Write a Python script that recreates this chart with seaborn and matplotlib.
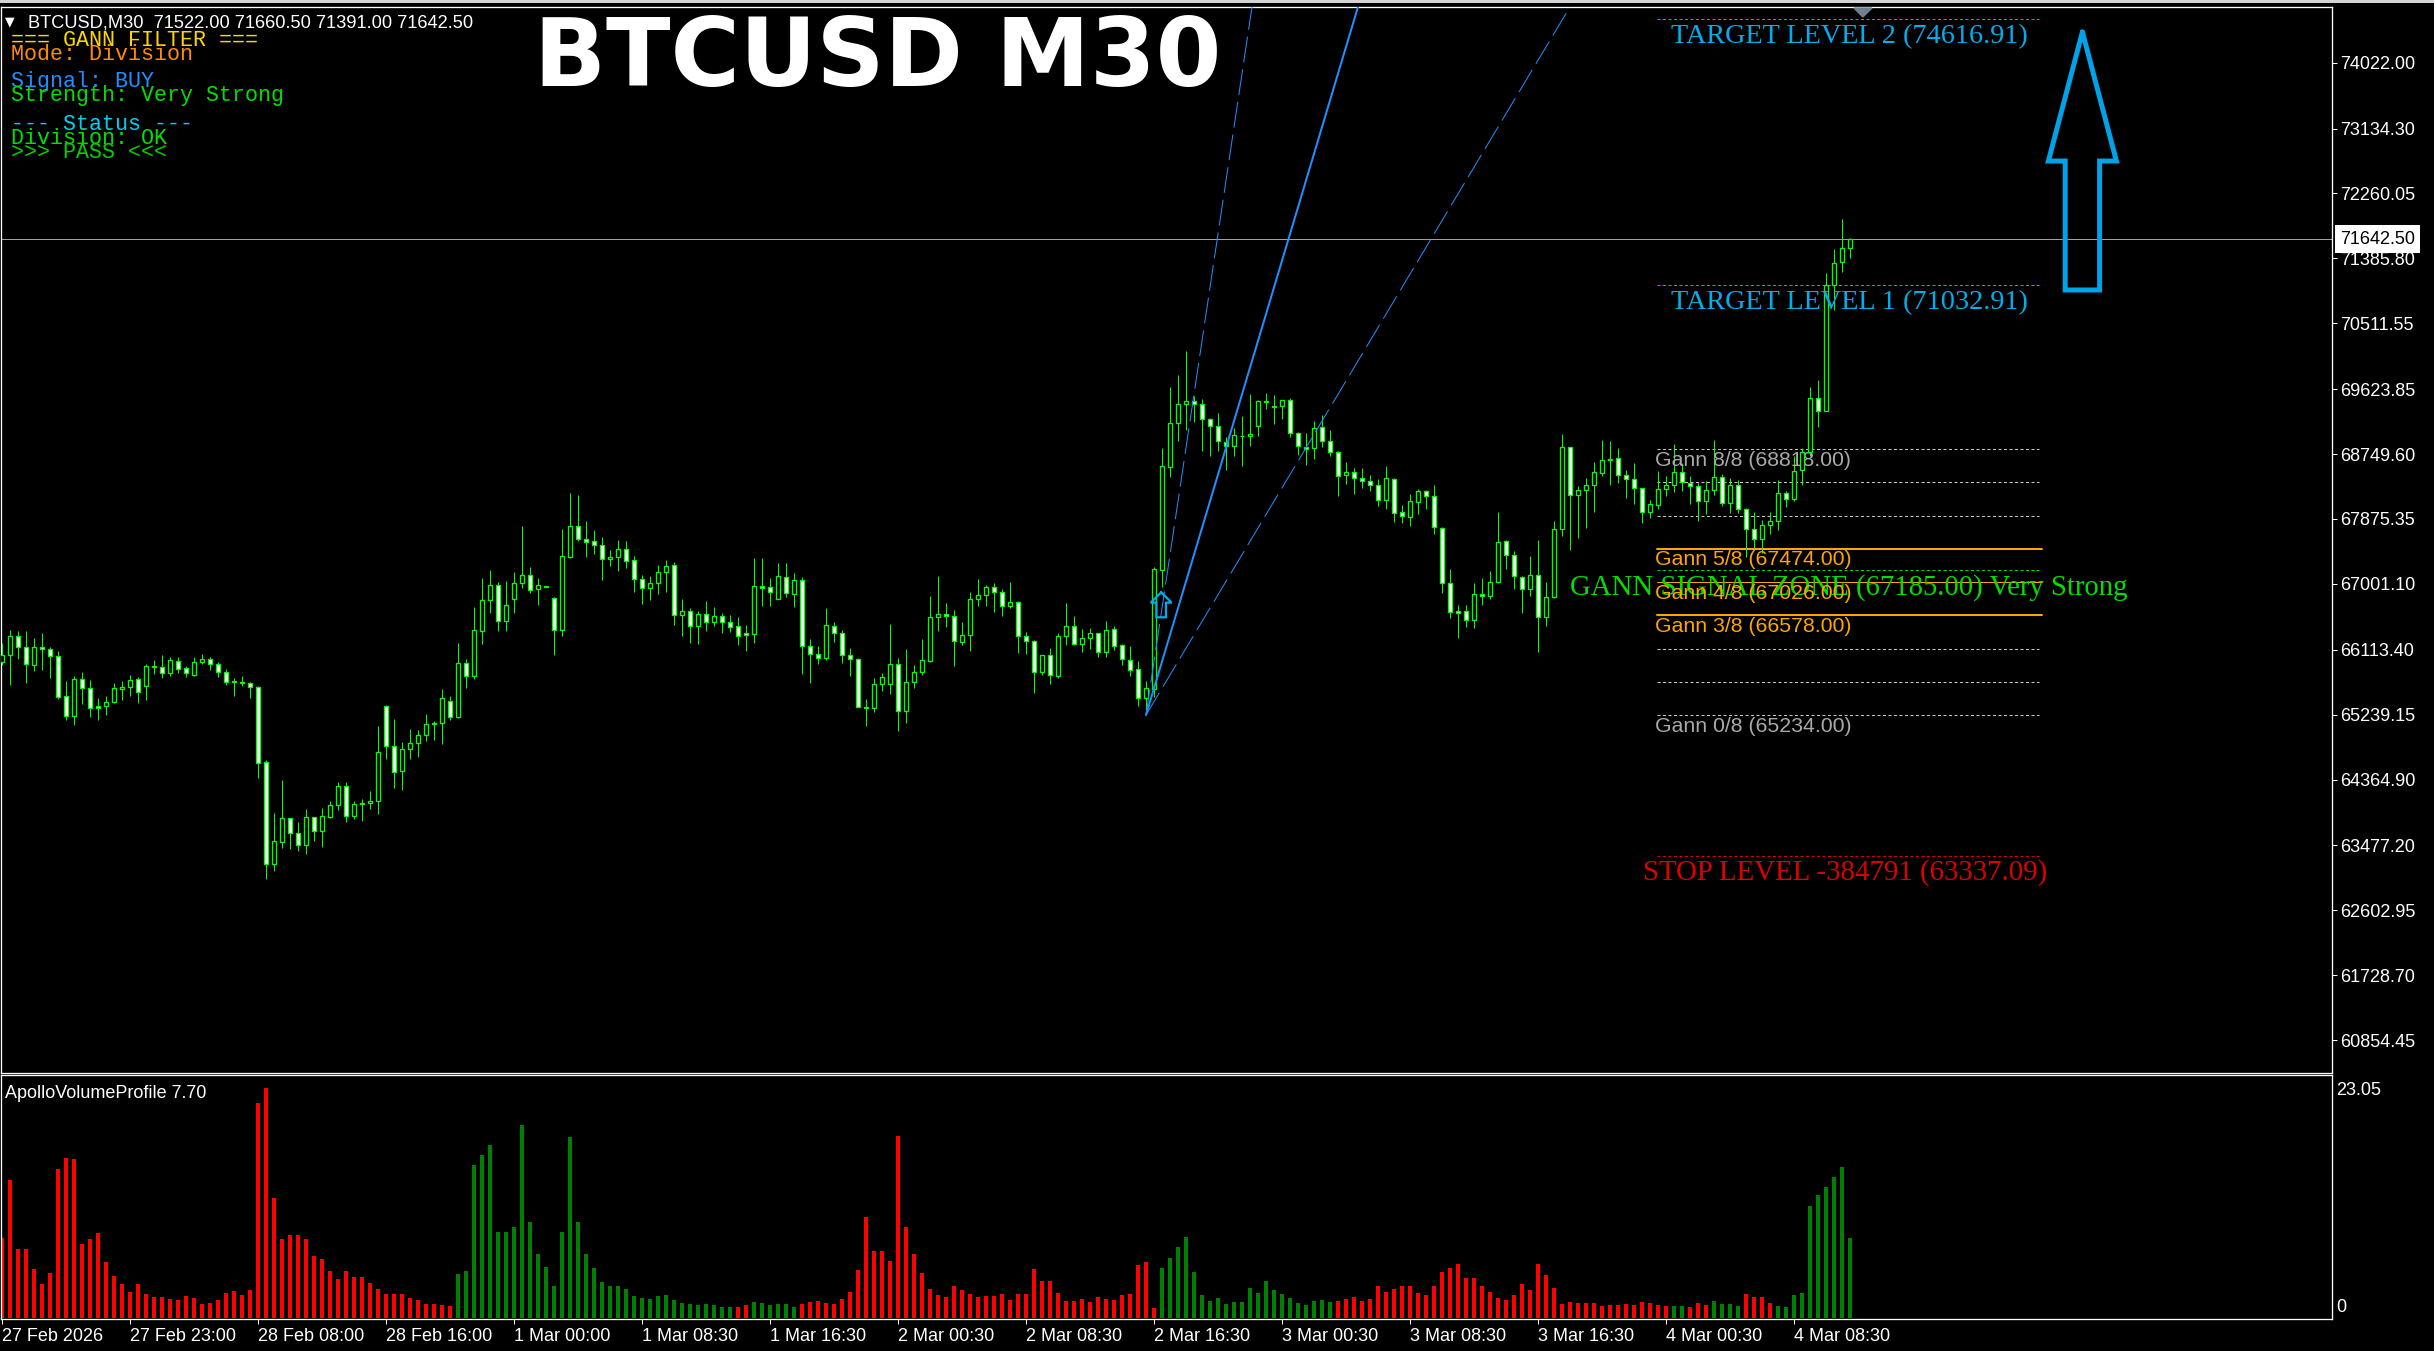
import pandas as pd
import seaborn as sns
import matplotlib.pyplot as plt
from matplotlib.patches import Rectangle

# Candles, one per 30 minutes
open_prices = [
    65953, 66039, 66295, 66146, 65904, 66146, 66119, 66025, 65486, 65217,
    65715, 65594, 65352, 65352, 65406, 65581, 65608, 65715, 65630, 65890,
    65877, 65796, 65958, 65864, 65778, 65944, 65985, 65917, 65810, 65688,
    65675, 65661, 65608, 64597, 63223, 63520, 63843, 63641, 63479, 63856,
    63668, 63856, 64018, 64274, 63870, 64045, 64045, 64072, 65352, 64813,
    64476, 64773, 64853, 64961, 65123, 65123, 65419, 65204, 65931, 65756,
    66371, 66779, 66981, 66496, 66793, 67008, 67116, 66927, 66968, 66806,
    66375, 67367, 67776, 67610, 67574, 67520, 67331, 67358, 67466, 67318,
    67062, 66941, 67008, 67156, 67251, 66577, 66631, 66429, 66591, 66483,
    66564, 66483, 66429, 66335, 66330, 66968, 66955, 66802, 67089, 66869,
    67049, 66160, 66052, 65998, 66429, 66335, 66039, 65985, 65343, 65325,
    65648, 65648, 65917, 65284, 65675, 65810, 65958, 66550, 66591, 66564,
    66214, 66308, 66793, 66847, 66955, 66887, 66699, 66753, 66295, 66227,
    65810, 66039, 65756, 66295, 66429, 66187, 66268, 66335, 66079, 66389,
    66173, 65971, 65850, 65459, 65585, 67192, 68580, 69164, 69419, 69460,
    69419, 69217, 69123, 68908, 68854, 68997, 68988, 69132, 69446, 69392,
    69392, 69473, 69029, 68840, 68827, 69110, 68921, 68773, 68463, 68503,
    68423, 68382, 68328, 68126, 68409, 67965, 67897, 68099, 68248, 68180,
    67749, 67008, 66636, 66631, 66510, 66860, 66833, 67022, 67574, 67385,
    67089, 66927, 67116, 66550, 66820, 67736, 68840, 68194, 68261, 68328,
    68490, 68665, 68692, 68463, 68409, 68288, 67965, 68060, 68275, 68329,
    68504, 68356, 68315, 68113, 68262, 68437, 68091, 68329, 68006, 67736,
    67602, 67790, 67844, 68221, 68140, 68535, 68782, 69500, 69334, 71023,
    71332, 71522,
]
high_prices = [
    66200, 66380, 66366, 66366, 66272, 66339, 66151, 66097, 65688, 65760,
    65810, 65706, 65464, 65491, 65666, 65693, 65774, 65742, 65917, 65976,
    66043, 66016, 66016, 65890, 66016, 66057, 66012, 65949, 65850, 65733,
    65760, 65675, 65621, 64629, 63910, 64355, 63843, 63789, 63964, 63856,
    63978, 64072, 64332, 64332, 64072, 64099, 64207, 65082, 65365, 65177,
    64867, 65042, 65028, 65244, 65150, 65581, 65486, 66205, 65985, 66685,
    67080, 67188, 67026, 67040, 67161, 67780, 67228, 67080, 66968, 66824,
    67735, 68225, 68198, 67848, 67727, 67632, 67457, 67592, 67578, 67376,
    67120, 67107, 67255, 67322, 67295, 66797, 66676, 66635, 66770, 66689,
    66604, 66582, 66555, 66443, 67345, 67350, 67076, 67278, 67278, 67143,
    67089, 66254, 66164, 66676, 66483, 66375, 66133, 65998, 65446, 65729,
    65801, 66456, 65998, 66119, 65908, 66254, 66833, 67103, 66744, 66645,
    66488, 66887, 67062, 66981, 67008, 66928, 67022, 66766, 66353, 66241,
    66039, 66133, 66335, 66744, 66568, 66389, 66402, 66335, 66497, 66429,
    66187, 66164, 65958, 65688, 67233, 68831, 69653, 69815, 70138, 69532,
    69491, 69231, 69298, 68984, 69096, 69258, 69554, 69473, 69568, 69541,
    69473, 69500, 69042, 69029, 69190, 69271, 69069, 68786, 68643, 68557,
    68557, 68463, 68414, 68589, 68423, 68063, 68212, 68274, 68261, 68328,
    67763, 67201, 66712, 66712, 67013, 67080, 67174, 67965, 67588, 67444,
    67103, 67376, 67588, 67026, 67843, 69015, 68840, 68319, 68423, 68638,
    68939, 68921, 68831, 68530, 68625, 68288, 68131, 68522, 68455, 68886,
    68625, 68450, 68356, 68383, 68940, 68477, 68423, 68396, 68019, 67965,
    67862, 67965, 68396, 68248, 68720, 68827, 69658, 69747, 71184, 71507,
    71916, 71660.5,
]
low_prices = [
    65908, 65639, 65989, 65666, 65828, 65841, 65733, 65455, 65168, 65100,
    65383, 65208, 65168, 65235, 65401, 65437, 65491, 65397, 65437, 65787,
    65733, 65760, 65801, 65747, 65760, 65922, 65841, 65747, 65639, 65491,
    65626, 65464, 64386, 63026, 63134, 63443, 63430, 63403, 63363, 63538,
    63457, 63848, 63955, 63794, 63834, 63807, 63969, 63901, 64642, 64252,
    64225, 64642, 64669, 64885, 64898, 64844, 65168, 65195, 65599, 65720,
    66191, 66608, 66366, 66366, 66608, 66945, 66878, 66716, 66963, 66043,
    66299, 67354, 67583, 67363, 67403, 67053, 67242, 67174, 67215, 66891,
    66730, 66784, 66864, 66891, 66447, 66299, 66204, 66191, 66366, 66433,
    66339, 66353, 66178, 66097, 66205, 66703, 66703, 66802, 66824, 66690,
    65787, 65666, 65922, 65976, 66218, 65935, 65760, 65338, 65087, 65275,
    65558, 65518, 65019, 65127, 65599, 65774, 65949, 66367, 66420, 65895,
    66178, 66097, 66703, 66703, 66622, 66568, 66676, 66070, 66057, 65531,
    65774, 65653, 65738, 66178, 66178, 66084, 66124, 66016, 66016, 66110,
    65908, 65760, 65356, 65275, 65477, 66963, 68445, 68926, 69074, 69181,
    68791, 68723, 68791, 68535, 68723, 68589, 68858, 68993, 69357, 69155,
    69217, 68984, 68737, 68602, 68679, 68845, 68723, 68185, 68346, 68212,
    68292, 68252, 68050, 68010, 67834, 67821, 67781, 67942, 68005, 67673,
    66878, 66537, 66267, 66420, 66402, 66716, 66797, 67017, 67197, 66932,
    66609, 66838, 66083, 66434, 66806, 67646, 67457, 67619, 67754, 67969,
    68454, 68333, 68360, 68158, 68077, 67821, 67889, 68015, 68181, 68239,
    68253, 68078, 67849, 67938, 68194, 68051, 67956, 67956, 67364, 67480,
    67413, 67669, 67727, 68033, 68118, 68333, 68724, 69119, 69325, 70690,
    71207, 71391,
]
close_prices = [
    66039, 66295, 66146, 65917, 66146, 66119, 66025, 65473, 65217, 65715,
    65594, 65325, 65325, 65406, 65594, 65608, 65702, 65540, 65890, 65877,
    65796, 65971, 65850, 65796, 65944, 65985, 65917, 65810, 65675, 65684,
    65661, 65608, 64584, 63223, 63533, 63843, 63641, 63479, 63856, 63668,
    63870, 64018, 64274, 63870, 64032, 64036, 64072, 64732, 64813, 64463,
    64773, 64853, 64961, 65109, 65109, 65459, 65204, 65931, 65756, 66375,
    66779, 66981, 66496, 66712, 67008, 67116, 66914, 66981, 66963, 66375,
    67372, 67776, 67610, 67569, 67520, 67331, 67358, 67466, 67304, 67062,
    66941, 67008, 67156, 67237, 66577, 66631, 66429, 66591, 66483, 66564,
    66492, 66425, 66304, 66317, 66968, 66950, 66887, 67103, 66874, 67049,
    66160, 66052, 65998, 66443, 66335, 66039, 65985, 65338, 65334, 65648,
    65742, 65917, 65284, 65675, 65810, 65971, 66550, 66591, 66564, 66227,
    66308, 66793, 66847, 66955, 66887, 66699, 66753, 66295, 66227, 65810,
    66039, 65769, 66295, 66429, 66187, 66268, 66335, 66079, 66375, 66160,
    65985, 65837, 65459, 65594, 67201, 68584, 69164, 69419, 69460, 69419,
    69217, 69123, 68921, 68854, 69002, 68988, 69015, 69460, 69460, 69388,
    69473, 69029, 68854, 68813, 69096, 68921, 68773, 68450, 68503, 68423,
    68382, 68328, 68126, 68423, 67951, 67911, 68113, 68248, 68180, 67763,
    67008, 66618, 66613, 66510, 66860, 66833, 67022, 67561, 67385, 67103,
    66927, 67116, 66550, 66820, 67736, 68840, 68194, 68261, 68328, 68503,
    68665, 68679, 68463, 68409, 68288, 67965, 68073, 68275, 68329, 68504,
    68369, 68315, 68113, 68262, 68437, 68086, 68329, 68006, 67736, 67602,
    67790, 67844, 68221, 68140, 68518, 68782, 69500, 69334, 71027, 71319,
    71521, 71642.5,
]

# Volume pane
volume = [
    7.66, 13.17, 6.57, 6.57, 4.66, 3.22, 4.27, 14.23, 15.28, 15.18,
    7.05, 7.53, 8.10, 5.33, 3.99, 3.22, 2.46, 3.22, 2.26, 1.98,
    1.98, 1.79, 1.69, 2.07, 1.88, 1.31, 1.40, 1.69, 2.36, 2.55,
    2.17, 2.65, 20.54, 21.98, 11.45, 7.53, 7.91, 7.91, 7.53, 5.90,
    5.61, 4.47, 3.70, 4.47, 3.89, 3.89, 3.32, 2.74, 2.26, 2.26,
    2.26, 1.88, 1.69, 1.31, 1.31, 1.21, 1.12, 4.18, 4.47, 14.61,
    15.57, 16.52, 8.20, 8.20, 8.68, 18.44, 9.16, 6.09, 4.85, 3.03,
    8.20, 17.29, 9.16, 6.09, 4.75, 3.41, 3.03, 3.03, 2.74, 2.07,
    1.88, 1.79, 2.07, 2.17, 1.69, 1.40, 1.31, 1.21, 1.31, 1.21,
    1.02, 1.02, 1.02, 1.21, 1.50, 1.40, 1.21, 1.31, 1.31, 1.02,
    1.31, 1.50, 1.60, 1.40, 1.31, 1.79, 2.46, 4.56, 9.63, 6.38,
    6.38, 5.42, 17.39, 8.68, 6.09, 4.27, 2.74, 2.17, 1.98, 3.03,
    2.65, 2.26, 1.98, 2.07, 2.07, 2.26, 1.69, 2.26, 2.26, 4.66,
    3.51, 3.51, 2.36, 1.60, 1.60, 1.79, 1.50, 1.98, 1.79, 1.69,
    2.17, 2.26, 5.04, 5.33, 0.93, 4.75, 5.71, 6.76, 7.72, 4.37,
    2.17, 1.60, 1.88, 1.31, 1.50, 1.50, 2.84, 2.36, 3.51, 2.65,
    2.26, 1.88, 1.40, 1.21, 1.60, 1.69, 1.50, 1.60, 1.79, 1.98,
    1.60, 1.79, 3.03, 2.46, 2.74, 3.03, 3.03, 2.36, 2.17, 3.03,
    4.37, 4.75, 5.14, 3.80, 3.80, 3.03, 2.46, 1.88, 1.69, 2.17,
    3.22, 2.65, 5.14, 4.08, 2.84, 1.31, 1.50, 1.40, 1.40, 1.40,
    1.12, 1.21, 1.21, 1.31, 1.21, 1.50, 1.40, 1.21, 1.12, 1.12,
    1.12, 1.02, 1.40, 1.21, 1.60, 1.31, 1.31, 1.12, 2.26, 1.98,
    1.98, 1.40, 1.12, 1.02, 2.17, 2.36, 10.69, 11.74, 12.50, 13.46,
    14.42, 7.62,
]
volume_side = (["down"] * 57 + ["up"] * 35 + ["down"] * 2 + ["up"] * 6 + ["down"] * 45
               + ["up"] * 22 + ["down"] * 42 + ["up"] * 2 + ["down"] * 3 + ["up"] * 4
               + ["down"] * 4 + ["up"] * 10)

# Axis ticks
price_ticks = [74022.00, 73134.30, 72260.05, 71385.80, 70511.55, 69623.85, 68749.60, 67875.35,
               67001.10, 66113.40, 65239.15, 64364.90, 63477.20, 62602.95, 61728.70, 60854.45]
time_tick_bars = [0, 16, 32, 48, 64, 80, 96, 112, 128, 144, 160, 176, 192, 208, 224]
time_labels = ["27 Feb 2026", "27 Feb 23:00", "28 Feb 08:00", "28 Feb 16:00", "1 Mar 00:00",
               "1 Mar 08:30", "1 Mar 16:30", "2 Mar 00:30", "2 Mar 08:30", "2 Mar 16:30",
               "3 Mar 00:30", "3 Mar 08:30", "3 Mar 16:30", "4 Mar 00:30", "4 Mar 08:30"]
volume_top = 23.05
last_price = 71642.50

# Gann levels
gann_names = ["8/8", "7/8", "6/8", "5/8", "4/8", "3/8", "2/8", "1/8", "0/8"]
gann_levels = [68818, 68370, 67922, 67474, 67026, 66578, 66130, 65682, 65234]
gann_labelled = ["8/8", "5/8", "4/8", "3/8", "0/8"]
target_levels = [74616.91, 71032.91]
target_labels = ["TARGET LEVEL 2 (74616.91)", "TARGET LEVEL 1 (71032.91)"]
signal_level = 67185.00
signal_label = "GANN SIGNAL ZONE (67185.00) Very Strong"
stop_level = 63337.09
stop_label = "STOP LEVEL -384791 (63337.09)"
level_start = 206.9
level_end = 254.6

# Gann fan
fan_bar = 143
fan_price = 65234
fan_slopes = [720, 360, 180]

# Buy arrows, drawn on the chart
big_arrow_bars = [260.05, 264.3, 262.2, 262.2, 257.9, 257.9, 255.8, 260.05]
big_arrow_prices = [74435, 72697, 72697, 70960, 70960, 72697, 72697, 74435]
small_arrow_bars = [144.9, 146.2, 145.5, 145.5, 144.3, 144.3, 143.6, 144.9]
small_arrow_prices = [66888, 66748, 66748, 66551, 66551, 66748, 66748, 66888]
shift_bars = [231.5, 233.75, 232.6]
shift_prices = [74758, 74758, 74637]

panel_lines = [("=== GANN FILTER ===", "#FFD700", 40), ("Mode: Division", "#FF8C00", 54),
               ("Signal: BUY", "#1E90FF", 82), ("Strength: Very Strong", "#00E000", 96),
               ("--- Status ---", "#00D0F0", 124), ("Division: OK", "#00E000", 138),
               (">>> PASS <<<", "#00D000", 152)]
header_text = "BTCUSD,M30  71522.00 71660.50 71391.00 71642.50"
title_text = "BTCUSD M30"
volume_name = "ApolloVolumeProfile 7.70"

WIDTH, HEIGHT = 2434, 1351
PX = 0.72  # one pixel in points

sns.set_theme(style="dark", rc={"figure.facecolor": "black", "axes.facecolor": "black",
                                "axes.edgecolor": "white", "axes.grid": False})
plt.rcParams["font.family"] = "Liberation Sans"

candles = pd.DataFrame({"bar": range(len(open_prices)), "open": open_prices, "high": high_prices,
                        "low": low_prices, "close": close_prices})
candles["top"] = candles[["open", "close"]].max(axis=1)
candles["bottom"] = candles[["open", "close"]].min(axis=1)
candles["fill"] = ["white" if c < o else "black" for o, c in zip(open_prices, close_prices)]
bars = pd.DataFrame({"bar": range(len(volume)), "volume": volume, "side": volume_side})

fig = plt.figure(figsize=(WIDTH / 100, HEIGHT / 100), dpi=100)


def pane(left, top, right, bottom):
    return fig.add_axes([left / WIDTH, 1 - bottom / HEIGHT, (right - left) / WIDTH, (bottom - top) / HEIGHT])


ax = pane(1, 7, 2332, 1073)
ax_vol = pane(1, 1075, 2332, 1319)

# Candles
ax.vlines(candles["bar"], candles["low"], candles["high"], color="#00FF00", linewidth=PX, zorder=3)
ax.bar(candles["bar"], candles["top"] - candles["bottom"], bottom=candles["bottom"], width=0.46,
       color=candles["fill"], edgecolor="#00FF00", linewidth=0.95, zorder=4)

# Gann fan
top_price = 74772
for slope, width, style in zip(fan_slopes, [PX, 2 * PX, PX], [(0, (26, 7)), "-", (0, (26, 7))]):
    sns.lineplot(x=[fan_bar, fan_bar + (top_price - fan_price) / slope], y=[fan_price, top_price], ax=ax,
                 color="#1E90FF", linewidth=width, linestyle=style, zorder=5)

# Levels
for name, level in zip(gann_names, gann_levels):
    if name in ("5/8", "3/8"):
        ax.plot([level_start, 255], [level, level], color="#FFA500", linewidth=2 * PX, zorder=2)
    elif name == "4/8":
        ax.plot([level_start, 255], [level, level], color="#FFA500", linewidth=PX, zorder=5)
    else:
        ax.plot([level_start, level_end], [level, level], color="#C8C8C8", linewidth=PX,
                linestyle=(0, (3, 2.5)), zorder=2)
    if name in gann_labelled:
        color = "#FFA500" if name in ("5/8", "4/8", "3/8") else "#A9A9A9"
        ax.annotate(f"Gann {name} ({level:.2f})", xy=(206.6, level), xytext=(0, -8), textcoords="offset points",
                    color=color, fontsize=15.3, va="center", ha="left", zorder=3 if name != "4/8" else 6)

for level, label in zip(target_levels, target_labels):
    ax.plot([level_start, level_end], [level, level], color="#00AEEF", linewidth=PX,
            linestyle=(0, (3, 2.5)), zorder=2)
    ax.annotate(label, xy=(230.9, level), xytext=(0, -12.8), textcoords="offset points", color="#00AEEF",
                fontsize=20.3, family="Liberation Serif", va="center", ha="center", zorder=5)

ax.plot([level_start, level_end], [signal_level, signal_level], color="#00E000", linewidth=PX,
        linestyle=(0, (3, 2.5)), zorder=2)
ax.annotate(signal_label, xy=(230.9, signal_level), xytext=(0, -12.3), textcoords="offset points",
            color="#00E000", fontsize=20.7, family="Liberation Serif", va="center", ha="center", zorder=5)
ax.plot([level_start, level_end], [stop_level, stop_level], color="#DD0000", linewidth=PX,
        linestyle=(0, (3, 2.5)), zorder=2)
ax.annotate(stop_label, xy=(230.4, stop_level), xytext=(0, -12), textcoords="offset points",
            color="#DD0000", fontsize=20.8, family="Liberation Serif", va="center", ha="center", zorder=5)

# Arrows and markers
ax.plot(big_arrow_bars, big_arrow_prices, color="#00A2E8", linewidth=3.6, solid_joinstyle="miter", zorder=6)
ax.plot(small_arrow_bars, small_arrow_prices, color="#00AEEF", linewidth=1.6, solid_joinstyle="miter", zorder=6)
ax.fill(shift_bars, shift_prices, color="#708090", zorder=6)

# Last price
ax.axhline(last_price, color="#A0A0A0", linewidth=PX, zorder=1)
ax.annotate(f"{last_price:.2f}", xy=(1, last_price), xycoords=("axes fraction", "data"), xytext=(5.8, 0),
            textcoords="offset points", color="black", fontsize=13, va="center", ha="left",
            annotation_clip=False, zorder=10,
            bbox=dict(boxstyle="square,pad=0.3", facecolor="white", edgecolor="none"))

ax.set_xlim(-0.125, 291.25)
ax.set_ylim(60412, top_price)
ax.yaxis.tick_right()
ax.set_yticks(price_ticks, [f"{p:.2f}" for p in price_ticks], va="center_baseline")
ax.tick_params(axis="y", colors="white", labelsize=13, length=3.6, width=PX, pad=2, left=False, right=True)
ax.set_xticks([])
ax.set_xlabel("")
ax.set_ylabel("")

# Volume bars
sns.barplot(data=bars, x="bar", y="volume", hue="side", palette={"down": "#FF0000", "up": "#008000"},
            native_scale=True, dodge=False, width=0.38, linewidth=0, saturation=1, errorbar=None,
            legend=False, ax=ax_vol)
ax_vol.set_xlim(-0.125, 291.25)
ax_vol.set_ylim(-0.096, 23.23)
ax_vol.set_xticks(time_tick_bars, time_labels, ha="left")
ax_vol.tick_params(axis="x", colors="white", labelsize=13, length=3.6, width=PX, pad=3, bottom=True)
ax_vol.set_yticks([])
ax_vol.set_xlabel("")
ax_vol.set_ylabel("")
ax_vol.annotate(f"{volume_top:.2f}", xy=(1, volume_top), xycoords=("axes fraction", "data"), xytext=(3, -10),
                textcoords="offset points", color="white", fontsize=13, va="center", annotation_clip=False)
ax_vol.annotate("0", xy=(1, 0), xycoords=("axes fraction", "data"), xytext=(3, 7.2),
                textcoords="offset points", color="white", fontsize=13, va="center", annotation_clip=False)

for a in (ax, ax_vol):
    for spine in a.spines.values():
        spine.set_color("white")
        spine.set_linewidth(PX * 1.3)

# Text in the chart corner
fig.text(10 / WIDTH, 1 - 22 / HEIGHT, "\u25bc", color="white", fontsize=9, family="DejaVu Sans", ha="center", va="center")
fig.text(28.5 / WIDTH, 1 - 22.7 / HEIGHT, header_text, color="white", fontsize=13.15, va="center")
for text, color, y in panel_lines:
    fig.text(11 / WIDTH, 1 - y / HEIGHT, text, color=color, fontsize=15.6, family="Liberation Mono", va="center")
fig.text(878 / WIDTH, 1 - 60 / HEIGHT, title_text, color="white", fontsize=68, family="DejaVu Sans",
         fontweight="bold", ha="center", va="center")
fig.text(5 / WIDTH, 1 - 1093 / HEIGHT, volume_name, color="white", fontsize=13, va="center")

# Terminal strip above the chart
fig.add_artist(Rectangle((0, 1 - 3 / HEIGHT), 1, 3 / HEIGHT, transform=fig.transFigure, color="#D4D4D4", linewidth=0))

fig.savefig("out.png", dpi=100, facecolor="black")
